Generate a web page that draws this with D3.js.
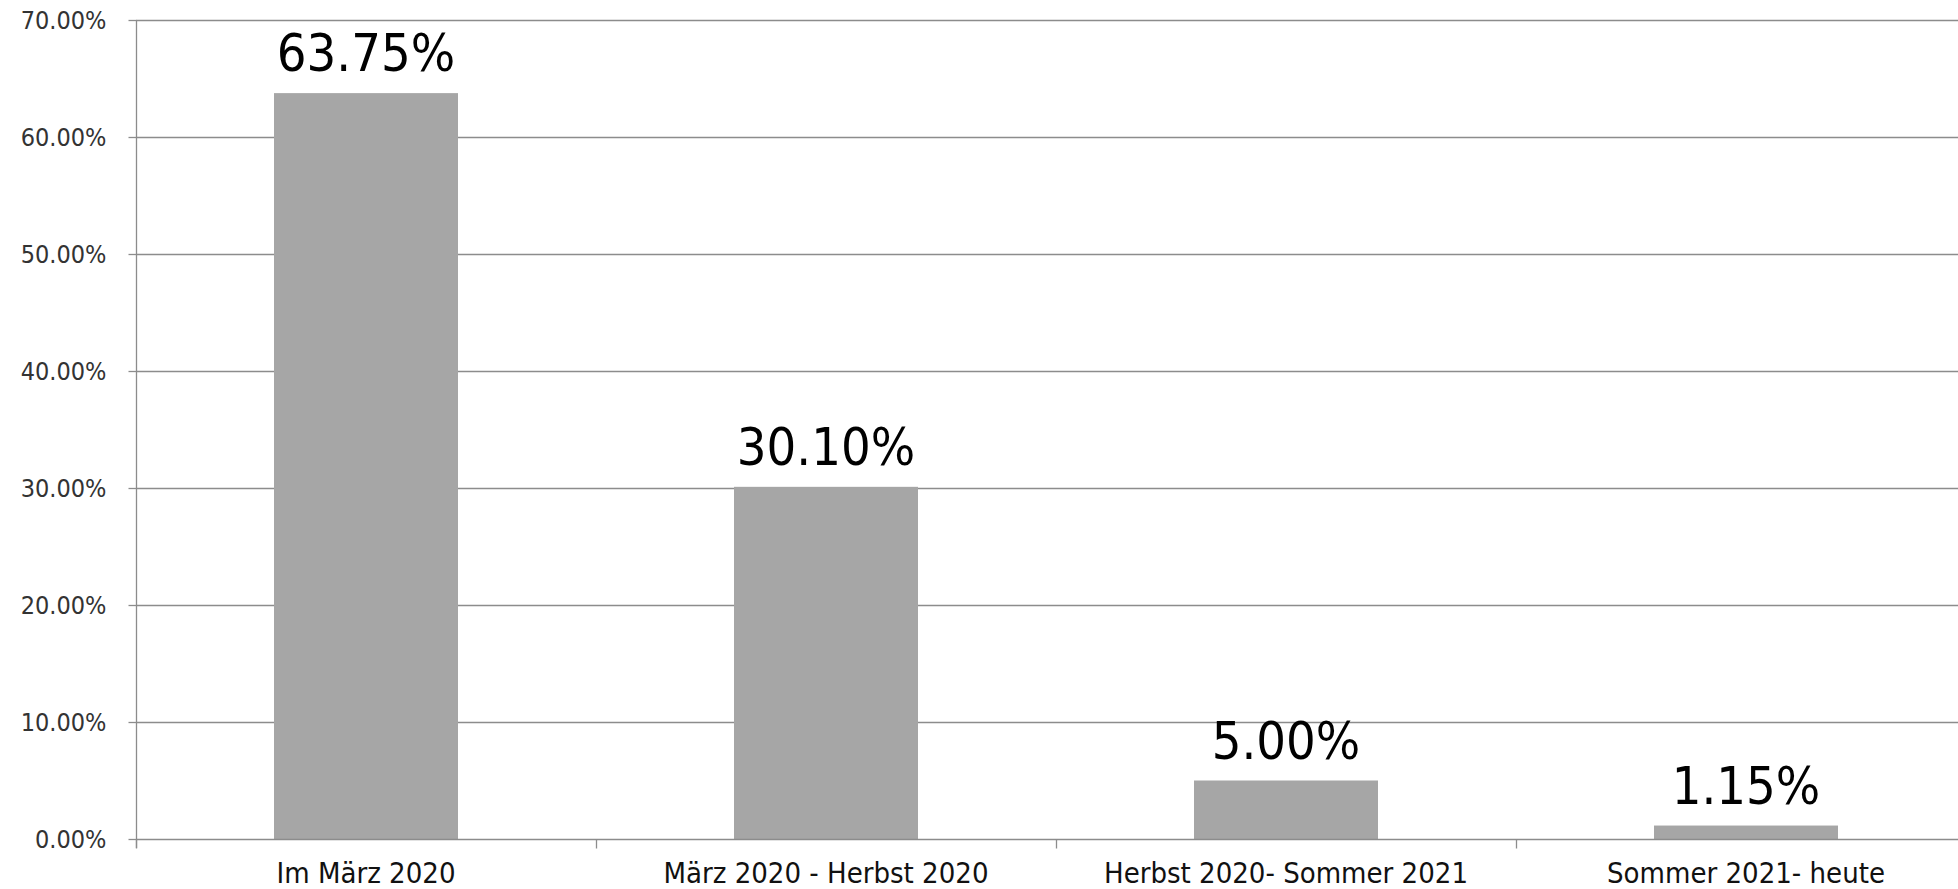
<!DOCTYPE html>
<html>
<head>
<meta charset="utf-8">
<script src="https://cdn.jsdelivr.net/npm/d3@7"></script>
<style>
  html, body { margin: 0; padding: 0; background: #ffffff; overflow: hidden; }
  svg { display: block; }
  .txt { font-family: "Liberation Sans Narrow", "DejaVu Sans Condensed", "Open Sans", sans-serif; }
</style>
</head>
<body>
<svg id="chart" width="1958" height="889"></svg>
<script>
const categories = ["Im März 2020", "März 2020 - Herbst 2020", "Herbst 2020- Sommer 2021", "Sommer 2021- heute"];
const values = [63.75, 30.10, 5.00, 1.15];
const valueLabels = ["63.75%", "30.10%", "5.00%", "1.15%"];
const yTicks = [0, 10, 20, 30, 40, 50, 60, 70];
const yTickLabels = ["0.00%", "10.00%", "20.00%", "30.00%", "40.00%", "50.00%", "60.00%", "70.00%"];

const svg = d3.select("#chart");
const mLeft = 136, mTop = 20, mBottom = 839, bandW = 460;
const mRight = mLeft + bandW * categories.length;

const x = d3.scaleBand().domain(categories).range([mLeft, mRight]).paddingInner(0.6).paddingOuter(0.3);
const xb = d3.scaleBand().domain(categories).range([mLeft, mRight]).padding(0);
const y = d3.scaleLinear().domain([0, 70]).range([mBottom, mTop]);

const gridColor = "#8c8c8c";

// gridlines
svg.append("g").selectAll("line").data(yTicks.filter(t => t > 0)).join("line")
  .attr("x1", mLeft).attr("x2", mRight)
  .attr("y1", d => Math.round(y(d)) + 0.5).attr("y2", d => Math.round(y(d)) + 0.5)
  .attr("stroke", gridColor).attr("stroke-width", 1.3);

// y axis
const yAxis = svg.append("g").attr("transform", `translate(${mLeft + 0.5},0)`)
  .call(d3.axisLeft(y).tickValues(yTicks).tickSize(8).tickPadding(22).tickFormat((d, i) => yTickLabels[i]));
yAxis.select(".domain").attr("stroke", gridColor).attr("stroke-width", 1.3).attr("d", `M0,${mTop}V${mBottom + 9}`);
yAxis.selectAll(".tick line").attr("stroke", gridColor).attr("stroke-width", 1.3);
yAxis.selectAll(".tick text").attr("class", "txt").attr("font-size", 25).attr("fill", "#333333");

// bars
svg.append("g").selectAll("rect").data(values).join("rect")
  .attr("x", (d, i) => x(categories[i]))
  .attr("width", x.bandwidth())
  .attr("y", d => y(d))
  .attr("height", d => mBottom - y(d))
  .attr("fill", "#a6a6a6");

// x axis
const xAxis = svg.append("g").attr("transform", `translate(0,${mBottom + 0.5})`)
  .call(d3.axisBottom(xb).tickSize(0).tickPadding(23));
xAxis.select(".domain").attr("stroke", gridColor).attr("stroke-width", 1.3).attr("d", `M${mLeft},0H${mRight}`);
xAxis.selectAll(".tick text").attr("class", "txt").attr("font-size", 29).attr("fill", "#111111");
const bounds = d3.range(categories.length + 1).map(i => (i < categories.length ? xb(categories[i]) : mRight));
xAxis.append("g").selectAll("line").data(bounds).join("line")
  .attr("x1", d => Math.round(d) + 0.5).attr("x2", d => Math.round(d) + 0.5)
  .attr("y1", 0).attr("y2", 9)
  .attr("stroke", gridColor).attr("stroke-width", 1.3);

// value labels
svg.append("g").selectAll("text").data(values).join("text")
  .attr("class", "txt")
  .attr("x", (d, i) => x(categories[i]) + x.bandwidth() / 2)
  .attr("y", d => y(d) - 22)
  .attr("text-anchor", "middle")
  .attr("font-size", 52)
  .attr("fill", "#000000")
  .text((d, i) => valueLabels[i]);
</script>
</body>
</html>
